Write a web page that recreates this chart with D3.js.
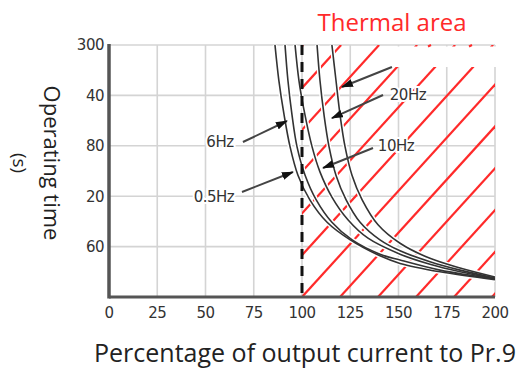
<!DOCTYPE html>
<html><head><meta charset="utf-8">
<script src="https://cdnjs.cloudflare.com/ajax/libs/d3/7.8.5/d3.min.js"></script>
<style>html,body{margin:0;padding:0;background:#fff;}svg{display:block;}</style>
</head><body><svg id="c" width="525" height="369"></svg>
<script>
// ---- data ----
const xTicks = [0, 25, 50, 75, 100, 125, 150, 175, 200];
const yTickValues = [60, 120, 180, 240, 300];
const yTickLabels = ["60", "20", "80", "40", "300"];
const thermalStart = 100;

const curveA = [[86,300],[88,258],[90.7,217],[93.8,179],[97.9,145],[104,116],[113,89],[125,68],[140.4,49],[150.8,40],[171.5,30],[200,20.5]];
const curveB = [[91.2,300],[92.7,258],[94.8,217],[97.4,179],[101.6,145],[107.3,116],[115.5,89],[126,68],[140.4,51],[150.8,44],[171.5,32],[200,21.4]];
const curveC = [[96.4,300],[98.4,258],[101,223],[105.2,179],[109.3,149],[115.5,119],[123.8,92],[134.2,70],[150.8,51],[166.3,39],[181.9,30],[200,22]];
const curveD = [[107.8,300],[109.3,258],[111.4,217],[114,179],[117.6,145],[122.8,116],[130.1,89],[140.4,68],[150.8,55],[166.3,42],[181.9,32],[200,22.6]];
const curveE = [[115.5,300],[117.6,258],[119.7,217],[122.3,179],[125.9,145],[131.1,116],[139.4,86],[150.8,64],[166.3,46],[181.9,34.5],[200,23.8]];
const curves = [curveA, curveB, curveC, curveD, curveE];

const labels = [
  {text: "6Hz", x: 57.5, y: 185},
  {text: "0.5Hz", x: 54.4, y: 120},
  {text: "10Hz", x: 148.7, y: 179.8},
  {text: "20Hz", x: 154.9, y: 240.5}
];
const arrows = [
  {from: [69.4, 184.5], to: [92.2, 209.5]},
  {from: [68.9, 125], to: [95.3, 148.8]},
  {from: [136.8, 177.4], to: [110.9, 153.6]},
  {from: [142, 240.5], to: [115.5, 213]},
  {from: [146.6, 273.8], to: [120.7, 250]}
];

// ---- chart ----
const svg = d3.select("#c");
const x = d3.scaleLinear().domain([0, 200]).range([109, 495]);
const y = d3.scaleLinear().domain([0, 300]).range([297, 45]);
const X0 = x(0), X1 = x(200), Y0 = y(0), Y1 = y(300);

const defs = svg.append("defs");
defs.append("clipPath").attr("id", "plot").append("rect")
  .attr("x", X0).attr("y", Y1).attr("width", X1 - X0).attr("height", Y0 - Y1);
defs.append("clipPath").attr("id", "therm").append("rect")
  .attr("x", x(thermalStart)).attr("y", Y1).attr("width", X1 - x(thermalStart)).attr("height", Y0 - Y1);
defs.append("marker").attr("id", "ah").attr("markerUnits", "userSpaceOnUse")
  .attr("viewBox", "0 0 12 8").attr("refX", 11).attr("refY", 4)
  .attr("markerWidth", 12).attr("markerHeight", 8).attr("orient", "auto")
  .append("path").attr("d", "M0,0 L12,4 L0,8 Z").attr("fill", "#111");

// grid
const grid = svg.append("g").attr("stroke", "#d4d4d4").attr("stroke-width", 1.6);
grid.selectAll("line.v").data(xTicks).join("line")
  .attr("x1", d => x(d)).attr("x2", d => x(d)).attr("y1", Y1).attr("y2", Y0);
grid.selectAll("line.h").data(yTickValues).join("line")
  .attr("x1", X0).attr("x2", X1).attr("y1", d => y(d)).attr("y2", d => y(d));

// red hatching in thermal area
const hatch = svg.append("g").attr("clip-path", "url(#therm)")
  .attr("stroke", "#ff2a2a").attr("stroke-width", 2.2);
const sp = 38, slope = 1.1, H = Y0 - Y1;
const starts = d3.range(-8, 6).map(k => x(thermalStart) + k * sp);
hatch.selectAll("line").data(starts).join("line")
  .attr("x1", d => d).attr("y1", Y0).attr("x2", d => d + H / slope).attr("y2", Y1);

// covered box top-right
svg.append("rect").attr("x", 394).attr("y", Y1 + 1.5).attr("width", 104).attr("height", 20.5).attr("fill", "#fff");
svg.append("g").attr("stroke", "#ff2a2a").attr("stroke-width", 2)
  .selectAll("line").data([428, 469]).join("line")
  .attr("x1", d => d).attr("x2", d => d + 3).attr("y1", Y1 + 1.5).attr("y2", Y1);

// curves
const line = d3.line().x(d => x(d[0])).y(d => y(d[1])).curve(d3.curveCatmullRom.alpha(0.5));
const cg = svg.append("g").attr("clip-path", "url(#plot)").attr("fill", "none");
cg.selectAll("path.halo").data(curves).join("path").attr("class", "halo")
  .attr("d", line).attr("stroke", "#fff").attr("stroke-width", 4.5);
cg.selectAll("path.c").data(curves).join("path").attr("class", "c")
  .attr("d", line).attr("stroke", "#333").attr("stroke-width", 1.6);

// dashed 100% line
svg.append("line").attr("x1", x(thermalStart)).attr("x2", x(thermalStart))
  .attr("y1", Y1).attr("y2", Y0).attr("stroke", "#111").attr("stroke-width", 3)
  .attr("stroke-dasharray", "10,7");

// arrows
svg.append("g").selectAll("line").data(arrows).join("line")
  .attr("x1", d => x(d.from[0])).attr("y1", d => y(d.from[1]))
  .attr("x2", d => x(d.to[0])).attr("y2", d => y(d.to[1]))
  .attr("stroke", "#444").attr("stroke-width", 2).attr("marker-end", "url(#ah)");

// labels
svg.append("g").selectAll("text").data(labels).join("text")
  .attr("x", d => x(d.x)).attr("y", d => y(d.y)).attr("dy", "0.36em")
  .attr("text-anchor", "middle").attr("font-family", "DejaVu Sans").attr("font-size", 15)
  .attr("fill", "#333").attr("letter-spacing", -0.5)
  .attr("stroke", "#fff").attr("stroke-width", 4).attr("paint-order", "stroke")
  .text(d => d.text);

// axes lines
svg.append("line").attr("x1", X0).attr("x2", X0).attr("y1", Y1 - 1).attr("y2", Y0 + 1.5)
  .attr("stroke", "#555").attr("stroke-width", 3.5);
svg.append("line").attr("x1", X0).attr("x2", X1).attr("y1", Y0).attr("y2", Y0)
  .attr("stroke", "#555").attr("stroke-width", 3);

// tick labels
svg.append("g").selectAll("text").data(xTicks).join("text")
  .attr("x", d => x(d)).attr("y", 313).attr("dy", "0.36em").attr("text-anchor", "middle")
  .attr("font-family", "DejaVu Sans").attr("font-size", 15).attr("fill", "#333").attr("letter-spacing", -0.5)
  .text(d => d);
svg.append("g").selectAll("text").data(yTickValues).join("text")
  .attr("x", 104).attr("y", d => y(d)).attr("dy", "0.36em").attr("text-anchor", "end")
  .attr("font-family", "DejaVu Sans").attr("font-size", 15).attr("fill", "#333").attr("letter-spacing", -0.5)
  .text((d, i) => yTickLabels[i]);

// titles
svg.append("text").attr("x", 392).attr("y", 31).attr("text-anchor", "middle")
  .attr("font-family", "Open Sans").attr("font-size", 24).attr("fill", "#ff2a2a")
  .text("Thermal area");
svg.append("text").attr("x", 305).attr("y", 362).attr("text-anchor", "middle")
  .attr("font-family", "Open Sans").attr("font-size", 25).attr("fill", "#222")
  .text("Percentage of output current to Pr.9");
svg.append("text").attr("transform", "translate(44,163) rotate(90)").attr("text-anchor", "middle")
  .attr("font-family", "Open Sans").attr("font-size", 22).attr("fill", "#222")
  .text("Operating time");
svg.append("text").attr("transform", "translate(13,163) rotate(90)").attr("text-anchor", "middle")
  .attr("font-family", "Open Sans").attr("font-size", 19).attr("fill", "#222")
  .text("(s)");
</script></body></html>
